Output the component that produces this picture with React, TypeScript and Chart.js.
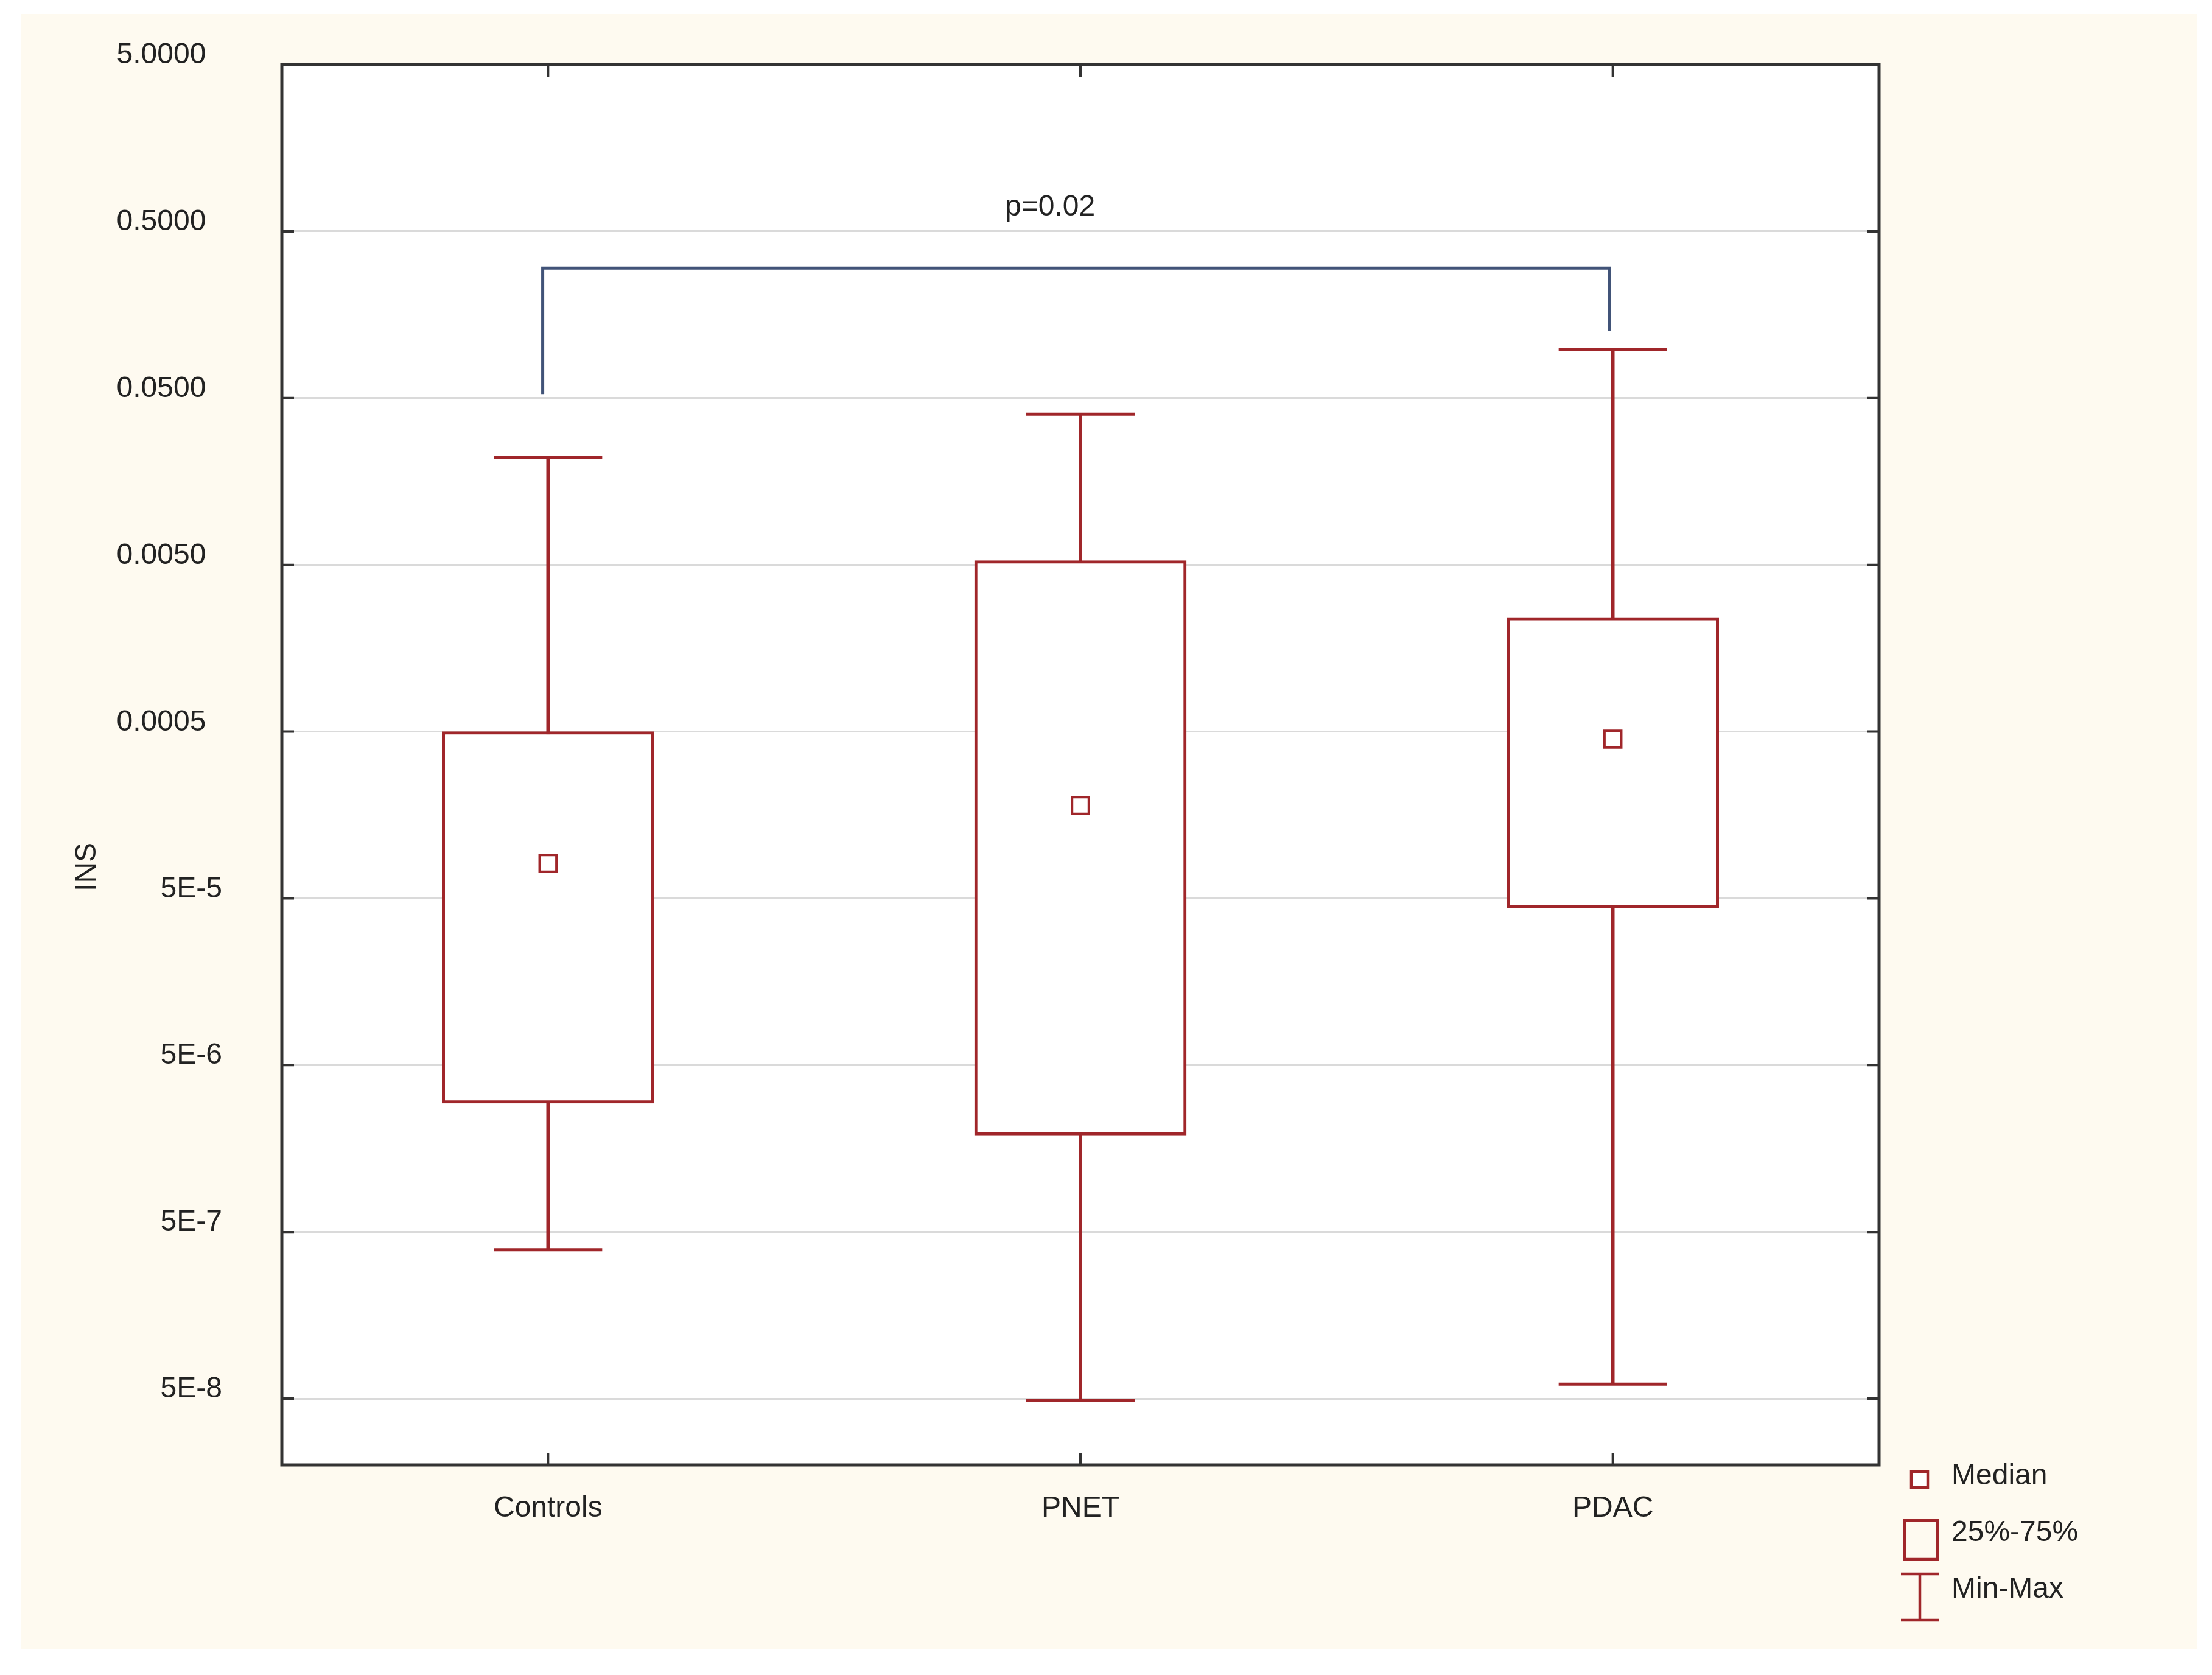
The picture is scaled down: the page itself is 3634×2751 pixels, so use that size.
import React, { useEffect, useRef } from 'react';
import { Chart, registerables } from 'chart.js';

Chart.register(...registerables);

// ---------- data ----------
const categories = ['Controls', 'PNET', 'PDAC'];
const minValues = [3.9e-7, 4.9e-8, 6.1e-8];
const q1Values = [2.95e-6, 1.9e-6, 4.4e-5];
const medianValues = [8.1e-5, 1.8e-4, 4.5e-4];
const q3Values = [5.0e-4, 5.3e-3, 2.4e-3];
const maxValues = [0.022, 0.04, 0.098];

const yTickValues = [5e-8, 5e-7, 5e-6, 5e-5, 5e-4, 5e-3, 5e-2, 0.5, 5];
const yTickLabels = ['5E-8', '5E-7', '5E-6', '5E-5', '0.0005', '0.0050', '0.0500', '0.5000', '5.0000'];
const yMin = 2e-8;
const yMax = 5;

// significance bracket (x in category-index units, y in data units)
const bracketX = [-0.01, -0.01, 1.994, 1.994];
const bracketY = [0.0528, 0.301, 0.301, 0.1257];
const pLabel = 'p=0.02';
const pLabelX = 0.943;
const pLabelY = 0.693;

const legendLabels = ['Median', '25%-75%', 'Min-Max'];
const yTitle = 'INS';

// ---------- styles ----------
const FONT = '"Liberation Sans", Arial, Helvetica, sans-serif';
const RED = '#a0262a';
const BLUE = '#415378';
const AXIS = '#333333';
const TEXT = '#222222';
const FS = 48;

const decorPlugin: any = {
  id: 'decor',
  beforeDraw(chart: any) {
    const { ctx, chartArea: a } = chart;
    ctx.save();
    ctx.fillStyle = '#ffffff';
    ctx.fillRect(a.left, a.top, a.right - a.left, a.bottom - a.top);
    ctx.restore();
  },
  afterDatasetsDraw(chart: any) {
    const { ctx } = chart;
    const x = chart.scales.x2.getPixelForValue(pLabelX);
    const y = chart.scales.y.getPixelForValue(pLabelY);
    ctx.save();
    ctx.font = `${FS}px ${FONT}`;
    ctx.fillStyle = TEXT;
    ctx.textAlign = 'center';
    ctx.textBaseline = 'middle';
    ctx.fillText(pLabel, x, y);
    ctx.restore();
  },
  afterDraw(chart: any) {
    const { ctx, chartArea: a } = chart;
    const ys = chart.scales.y;
    const xs = chart.scales.x;
    ctx.save();
    // plot frame
    ctx.strokeStyle = AXIS;
    ctx.lineWidth = 5;
    ctx.strokeRect(a.left, a.top, a.right - a.left, a.bottom - a.top);
    // inward tick marks
    const tl = 20;
    ctx.lineWidth = 4;
    ctx.beginPath();
    ys.ticks.forEach((t: any) => {
      const py = ys.getPixelForValue(t.value);
      ctx.moveTo(a.left, py);
      ctx.lineTo(a.left + tl, py);
      ctx.moveTo(a.right, py);
      ctx.lineTo(a.right - tl, py);
    });
    categories.forEach((_, i) => {
      const px = xs.getPixelForValue(i);
      ctx.moveTo(px, a.bottom);
      ctx.lineTo(px, a.bottom - tl);
      ctx.moveTo(px, a.top);
      ctx.lineTo(px, a.top + tl);
    });
    ctx.stroke();

    // y title
    ctx.save();
    ctx.translate(a.left - 319, a.top + 0.573 * (a.bottom - a.top));
    ctx.rotate(-Math.PI / 2);
    ctx.font = `${FS}px ${FONT}`;
    ctx.fillStyle = TEXT;
    ctx.textAlign = 'center';
    ctx.textBaseline = 'middle';
    ctx.fillText(yTitle, 0, 0);
    ctx.restore();

    // legend
    const r = a.right;
    const b = a.bottom;
    ctx.strokeStyle = RED;
    ctx.fillStyle = '#ffffff';
    ctx.lineWidth = 4.5;
    // median marker
    ctx.fillRect(r + 53, b + 11, 27, 26);
    ctx.strokeRect(r + 53, b + 11, 27, 26);
    // box
    ctx.strokeRect(r + 42, b + 91, 54, 64);
    // whisker
    ctx.beginPath();
    ctx.moveTo(r + 67, b + 179);
    ctx.lineTo(r + 67, b + 255);
    ctx.moveTo(r + 36, b + 179);
    ctx.lineTo(r + 99, b + 179);
    ctx.moveTo(r + 36, b + 255);
    ctx.lineTo(r + 99, b + 255);
    ctx.stroke();
    ctx.font = `${FS}px ${FONT}`;
    ctx.fillStyle = TEXT;
    ctx.textAlign = 'left';
    ctx.textBaseline = 'middle';
    ctx.fillText(legendLabels[0], r + 119, b + 19);
    ctx.fillText(legendLabels[1], r + 119, b + 112);
    ctx.fillText(legendLabels[2], r + 119, b + 205);
    ctx.restore();
  },
};

export default function App() {
  const ref = useRef<HTMLCanvasElement>(null);

  useEffect(() => {
    const canvas = ref.current;
    if (!canvas) return;
    Chart.defaults.font.family = FONT;

    const chart = new Chart(canvas, {
      type: 'bar',
      data: {
        labels: categories,
        datasets: [
          {
            type: 'line',
            label: 'Median',
            data: medianValues,
            showLine: false,
            pointStyle: 'rect',
            pointRadius: 19.5,
            pointHoverRadius: 19.5,
            pointBackgroundColor: '#ffffff',
            pointBorderColor: RED,
            pointBorderWidth: 4,
            order: 0,
          } as any,
          {
            type: 'line',
            label: 'Max',
            data: maxValues,
            showLine: false,
            pointStyle: 'line',
            pointRadius: 89,
            pointHoverRadius: 89,
            pointBorderColor: RED,
            pointBorderWidth: 5,
            order: 1,
          } as any,
          {
            type: 'line',
            label: 'Min',
            data: minValues,
            showLine: false,
            pointStyle: 'line',
            pointRadius: 89,
            pointHoverRadius: 89,
            pointBorderColor: RED,
            pointBorderWidth: 5,
            order: 1,
          } as any,
          {
            type: 'bar',
            label: '25%-75%',
            data: categories.map((_, i) => [q1Values[i], q3Values[i]]),
            backgroundColor: '#ffffff',
            borderColor: RED,
            borderWidth: 5,
            borderSkipped: false,
            barThickness: 348,
            grouped: false,
            order: 2,
          } as any,
          {
            type: 'bar',
            label: 'Min-Max',
            data: categories.map((_, i) => [minValues[i], maxValues[i]]),
            backgroundColor: RED,
            borderWidth: 0,
            barThickness: 5,
            grouped: false,
            order: 3,
          } as any,
          {
            type: 'line',
            label: 'bracket',
            xAxisID: 'x2',
            data: bracketX.map((x, i) => ({ x, y: bracketY[i] })),
            borderColor: BLUE,
            borderWidth: 5,
            pointRadius: 0,
            fill: false,
            tension: 0,
            order: 4,
          } as any,
        ],
      },
      options: {
        responsive: false,
        animation: false,
        layout: { autoPadding: false, padding: { top: 83, right: 522, bottom: 0, left: 0 } },
        plugins: {
          legend: { display: false },
          tooltip: { enabled: false },
          title: { display: false },
        },
        scales: {
          x: {
            type: 'category',
            position: 'bottom',
            offset: true,
            grid: { display: false, drawTicks: false },
            border: { display: false },
            ticks: {
              color: TEXT,
              padding: 43,
              font: { family: FONT, size: FS },
              maxRotation: 0,
              autoSkip: false,
            },
            afterFit: (s: any) => {
              s.height = 302;
              s.paddingLeft = 0;
              s.paddingRight = 0;
            },
          },
          x2: {
            type: 'linear',
            axis: 'x',
            position: 'bottom',
            display: false,
            min: -0.5,
            max: 2.5,
            offset: false,
          } as any,
          y: {
            type: 'logarithmic',
            position: 'left',
            min: yMin,
            max: yMax,
            afterBuildTicks: (s: any) => {
              s.ticks = yTickValues.map((v) => ({ value: v }));
            },
            afterFit: (s: any) => {
              s.width = 429;
              s.paddingTop = 0;
              s.paddingBottom = 0;
            },
            grid: { color: '#dadada', lineWidth: 3, drawTicks: false },
            border: { display: false },
            ticks: {
              autoSkip: false,
              padding: 98,
              labelOffset: -15,
              color: TEXT,
              font: { family: FONT, size: FS },
              callback: (_v: any, i: number) => {
                const lbl = yTickLabels[i];
                return lbl.indexOf('.') >= 0 ? lbl + '  ' : lbl;
              },
            },
          },
        },
      } as any,
      plugins: [decorPlugin],
    });

    return () => chart.destroy();
  }, []);

  return (
    <div
      style={{
        position: 'absolute',
        left: 0,
        top: 0,
        width: 3634,
        height: 2751,
        background: '#ffffff',
        overflow: 'hidden',
      }}
    >
      <div
        style={{
          position: 'absolute',
          left: 34,
          top: 23,
          width: 3575,
          height: 2685,
          background: '#fefaf0',
        }}
      >
        <canvas
          ref={ref}
          width={3575}
          height={2685}
          style={{ display: 'block', width: 3575, height: 2685 }}
        />
      </div>
    </div>
  );
}
